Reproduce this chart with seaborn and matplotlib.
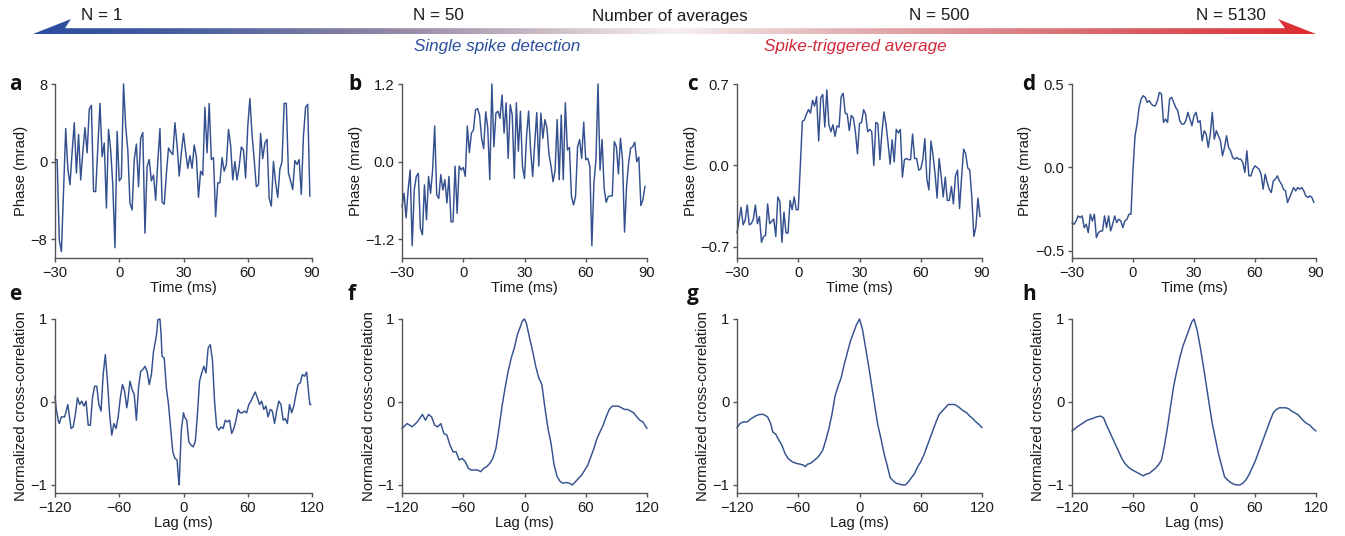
import numpy as np
import pandas as pd
import matplotlib
matplotlib.use("Agg")
import matplotlib.pyplot as plt
import seaborn as sns
from matplotlib.colors import LinearSegmentedColormap
from matplotlib.patches import Polygon

# ---------------- data ----------------
time_ms = list(range(-30, 90))

phase_a = [0.2, 0.2, -8.1, -9.3, -3.0, 3.4, -0.8, -2.4, 1.0, 4.0,
           -1.2, 2.8, -1.9, 1.0, 3.5, 0.9, 5.4, 5.8, -3.1, -3.1,
           1.5, 6.0, 0.5, 1.9, -4.8, 3.3, 1.2, -2.5, -8.9, 3.1,
           -2.0, -1.7, 8.0, 3.6, 1.2, -4.3, -5.0, 0.2, 1.8, -2.6,
           2.4, 3.0, -7.4, -0.5, 0.2, -2.0, -1.4, -4.0, 0.0, 3.4,
           -4.2, -4.4, -1.3, 1.4, 1.0, 0.7, 4.0, 1.7, -1.5, 0.9,
           2.9, 1.0, -0.7, 0.6, -0.7, 1.7, 0.5, -3.7, -1.0, -1.4,
           5.6, 0.9, 6.0, 0.2, 0.4, -5.7, -2.2, -2.2, 0.4, -1.0,
           -0.3, 3.3, 1.7, -1.9, 0.0, -1.9, -0.5, 1.5, 1.2, -1.7,
           3.6, 6.5, 2.8, 0.2, -2.6, -2.4, 2.9, 0.3, 1.9, 2.3,
           -3.8, -4.6, 0.0, -2.2, -3.7, -0.8, 0.0, 6.0, 6.0, -1.2,
           -2.0, -2.9, 0.1, -0.3, 0.2, -3.4, 2.6, 5.6, 5.9, -3.6]

phase_b = [-0.70, -0.49, -0.87, -0.44, -0.13, -1.30, -0.44, -0.23, -0.18, -1.03,
           -1.13, -0.36, -0.90, -0.23, -0.49, -0.13, 0.55, -0.51, -0.57, -0.20,
           -0.44, -0.28, -0.64, -0.23, -0.93, -0.93, -0.07, -0.80, -0.07, -0.13,
           -0.09, -0.23, 0.55, 0.14, 0.44, 0.49, 0.80, 0.82, 0.72, 0.36,
           0.20, 0.77, 0.52, -0.28, 1.20, 0.23, 0.75, 0.78, 0.67, 1.03,
           0.44, 0.91, 0.05, 0.88, 0.72, -0.26, 0.91, 0.16, 0.78, -0.07,
           -0.26, 0.39, 0.78, 0.18, -0.23, 0.28, 0.76, -0.07, 0.75, 0.36,
           0.65, 0.52, 0.11, -0.07, -0.31, -0.13, 0.65, -0.28, 0.72, -0.28,
           0.91, 0.18, 0.22, -0.54, -0.67, -0.54, 0.23, 0.34, 0.05, 0.61,
           0.03, 0.05, -0.07, -1.30, -0.33, 0.03, 1.20, -0.13, 0.34, -0.41,
           -0.63, -0.54, -0.53, -0.53, 0.31, 0.23, -0.19, 0.36, 0.03, -1.09,
           -0.38, -0.02, 0.21, 0.23, 0.30, 0.00, 0.07, -0.68, -0.59, -0.38]

phase_c = [-0.58, -0.47, -0.36, -0.51, -0.47, -0.34, -0.51, -0.50, -0.46, -0.34,
           -0.50, -0.44, -0.66, -0.61, -0.60, -0.33, -0.50, -0.48, -0.46, -0.61,
           -0.27, -0.31, -0.66, -0.40, -0.58, -0.58, -0.30, -0.38, -0.27, -0.38,
           -0.38, -0.01, 0.38, 0.39, 0.44, 0.48, 0.45, 0.56, 0.51, 0.59,
           0.21, 0.58, 0.61, 0.33, 0.65, 0.35, 0.29, 0.35, 0.25, 0.34,
           0.33, 0.59, 0.62, 0.45, 0.44, 0.30, 0.43, 0.41, 0.29, 0.10,
           0.36, 0.37, 0.48, 0.44, 0.29, 0.31, 0.29, 0.00, 0.37, 0.36,
           0.05, 0.29, 0.46, 0.35, 0.19, 0.01, 0.22, 0.03, 0.31, 0.28,
           0.31, -0.10, 0.05, 0.06, 0.05, 0.05, 0.27, 0.06, 0.06, -0.04,
           -0.03, 0.05, 0.23, -0.12, -0.21, 0.21, 0.09, -0.07, -0.28, 0.06,
           -0.09, -0.27, -0.10, -0.30, -0.30, -0.18, -0.33, -0.09, -0.04, -0.37,
           -0.10, 0.14, 0.10, -0.02, -0.04, -0.27, -0.61, -0.53, -0.28, -0.44]

phase_d = [-0.33, -0.34, -0.32, -0.29, -0.30, -0.29, -0.36, -0.34, -0.39, -0.28,
           -0.32, -0.28, -0.42, -0.39, -0.38, -0.38, -0.29, -0.36, -0.29, -0.38,
           -0.34, -0.29, -0.33, -0.31, -0.32, -0.36, -0.32, -0.31, -0.28, -0.28,
           -0.01, 0.19, 0.26, 0.36, 0.41, 0.43, 0.42, 0.39, 0.40, 0.38,
           0.37, 0.37, 0.40, 0.45, 0.44, 0.27, 0.29, 0.27, 0.41, 0.42,
           0.39, 0.36, 0.34, 0.28, 0.26, 0.26, 0.28, 0.33, 0.29, 0.25,
           0.31, 0.33, 0.27, 0.28, 0.16, 0.22, 0.20, 0.12, 0.20, 0.33,
           0.17, 0.22, 0.19, 0.16, 0.07, 0.12, 0.19, 0.12, 0.10, 0.06,
           0.05, 0.06, 0.05, 0.05, 0.03, -0.03, 0.10, -0.05, -0.05, -0.01,
           0.01, 0.00, -0.01, -0.04, -0.13, -0.04, -0.09, -0.13, -0.15, -0.08,
           -0.07, -0.05, -0.08, -0.10, -0.13, -0.14, -0.21, -0.18, -0.15, -0.12,
           -0.14, -0.12, -0.13, -0.12, -0.14, -0.17, -0.18, -0.17, -0.18, -0.21]

lag_e = [-120, -119, -117, -116, -114, -111, -108, -107, -105, -103, -101, -99, -97, -95,
         -93, -91, -89, -87, -85, -83, -81, -79, -77, -75, -73, -71, -69, -67, -65, -63,
         -61, -59, -57, -55, -53, -52, -50, -48, -46, -44, -42, -40, -38, -36, -34, -32,
         -30, -28, -26, -25, -24, -22, -21, -20, -18, -16, -14, -12, -10, -8, -6, -5, -4,
         -3, -2, 0, 1, 3, 5, 7, 9, 11, 13, 15, 17, 19, 21, 23, 25, 27, 29, 31, 33, 35, 37,
         39, 41, 43, 45, 47, 49, 51, 53, 55, 57, 59, 61, 63, 65, 67, 69, 71, 73, 75, 77, 79,
         81, 83, 85, 87, 89, 91, 93, 95, 97, 99, 101, 103, 105, 107, 109, 111, 113, 115,
         117, 118, 119]
xcorr_e = [0.07, -0.07, -0.22, -0.26, -0.18, -0.18, -0.03, -0.13, -0.32, -0.30, -0.15, 0.05,
           -0.03, 0.01, -0.05, 0.01, -0.28, -0.28, 0.05, 0.19, 0.19, -0.03, -0.11, 0.33, 0.57,
           0.25, -0.15, -0.40, -0.26, -0.32, -0.18, 0.05, 0.21, 0.13, -0.07, 0.01, 0.25, 0.15,
           0.09, -0.22, 0.17, 0.37, 0.39, 0.43, 0.37, 0.21, 0.33, 0.61, 0.75, 0.83, 0.99, 1.00,
           0.83, 0.55, 0.53, 0.17, -0.03, -0.32, -0.60, -0.68, -0.70, -0.88, -1.00, -0.64,
           -0.34, -0.13, -0.18, -0.22, -0.48, -0.52, -0.54, -0.48, -0.15, 0.25, 0.35, 0.43,
           0.35, 0.65, 0.69, 0.51, 0.01, -0.30, -0.34, -0.30, -0.32, -0.22, -0.24, -0.22,
           -0.38, -0.32, -0.22, -0.09, -0.13, -0.13, -0.11, -0.13, -0.03, 0.01, 0.07, 0.12,
           0.05, -0.03, 0.01, -0.09, -0.05, -0.18, -0.09, -0.11, -0.26, -0.11, 0.01, -0.03,
           -0.22, -0.20, -0.26, -0.03, -0.13, -0.05, 0.09, 0.21, 0.23, 0.33, 0.31, 0.36, 0.09,
           -0.03, -0.03]

lag_f = [-120, -115, -110, -105, -100, -97, -94, -91, -88, -85, -82, -79, -76, -73, -70, -67,
         -64, -61, -58, -55, -52, -49, -46, -43, -40, -37, -34, -31, -28, -25, -22, -19, -16,
         -13, -10, -7, -4, -2, 0, 2, 5, 8, 11, 14, 17, 20, 23, 26, 29, 32, 35, 38, 41, 44, 47,
         50, 53, 56, 59, 62, 65, 68, 71, 74, 77, 80, 83, 86, 89, 92, 95, 98, 101, 104, 107,
         110, 113, 116, 120]
xcorr_f = [-0.32, -0.26, -0.30, -0.24, -0.15, -0.22, -0.15, -0.18, -0.28, -0.30, -0.26, -0.38,
           -0.40, -0.52, -0.60, -0.60, -0.70, -0.68, -0.72, -0.80, -0.82, -0.82, -0.82, -0.84,
           -0.80, -0.78, -0.74, -0.68, -0.56, -0.32, -0.05, 0.17, 0.37, 0.53, 0.65, 0.81, 0.91,
           0.98, 1.00, 0.94, 0.77, 0.61, 0.43, 0.29, 0.21, -0.07, -0.32, -0.50, -0.76, -0.90,
           -0.96, -0.98, -0.97, -0.98, -1.00, -0.96, -0.92, -0.88, -0.82, -0.76, -0.66, -0.56,
           -0.44, -0.36, -0.28, -0.18, -0.09, -0.05, -0.05, -0.05, -0.07, -0.09, -0.09, -0.11,
           -0.13, -0.18, -0.22, -0.24, -0.32]

lag_g = [-120, -117, -114, -110, -106, -102, -98, -94, -90, -87, -85, -82, -79, -76, -73, -70,
         -66, -62, -58, -55, -53, -51, -48, -45, -42, -39, -36, -33, -30, -27, -24, -21, -18,
         -15, -12, -9, -6, -3, 0, 3, 6, 9, 12, 15, 18, 21, 24, 27, 30, 33, 36, 39, 42, 45, 48,
         51, 54, 57, 60, 63, 66, 69, 72, 75, 78, 81, 84, 87, 90, 93, 96, 99, 102, 105, 108,
         111, 114, 117, 120]
xcorr_g = [-0.31, -0.26, -0.24, -0.24, -0.20, -0.17, -0.15, -0.15, -0.18, -0.26, -0.36, -0.39,
           -0.46, -0.52, -0.62, -0.68, -0.72, -0.74, -0.75, -0.76, -0.78, -0.75, -0.74, -0.71,
           -0.68, -0.64, -0.58, -0.46, -0.32, -0.15, 0.07, 0.19, 0.29, 0.45, 0.59, 0.73, 0.83,
           0.93, 1.00, 0.87, 0.65, 0.43, 0.19, -0.05, -0.28, -0.44, -0.62, -0.76, -0.91, -0.95,
           -0.98, -0.99, -1.00, -1.00, -0.96, -0.91, -0.86, -0.78, -0.72, -0.64, -0.54, -0.44,
           -0.34, -0.24, -0.15, -0.11, -0.07, -0.03, -0.03, -0.03, -0.05, -0.08, -0.11, -0.13,
           -0.17, -0.20, -0.24, -0.27, -0.31]

lag_h = [-120, -115, -110, -105, -100, -96, -92, -89, -86, -83, -80, -77, -74, -71, -68, -65,
         -62, -59, -56, -53, -50, -47, -44, -41, -38, -35, -32, -29, -26, -23, -20, -17, -14,
         -11, -8, -5, -2, 0, 3, 6, 9, 12, 15, 18, 21, 24, 27, 30, 33, 36, 39, 42, 45, 48, 51,
         54, 57, 60, 63, 66, 69, 72, 75, 78, 81, 84, 87, 90, 93, 96, 99, 102, 105, 108, 111,
         114, 117, 120]
xcorr_h = [-0.35, -0.30, -0.26, -0.22, -0.20, -0.18, -0.17, -0.19, -0.28, -0.36, -0.44, -0.52,
           -0.60, -0.68, -0.74, -0.78, -0.81, -0.83, -0.85, -0.87, -0.89, -0.87, -0.86, -0.83,
           -0.80, -0.76, -0.70, -0.52, -0.30, -0.05, 0.19, 0.37, 0.53, 0.67, 0.77, 0.87, 0.97,
           1.00, 0.87, 0.67, 0.45, 0.21, -0.03, -0.26, -0.44, -0.62, -0.76, -0.90, -0.94, -0.97,
           -0.99, -1.00, -1.00, -0.98, -0.94, -0.88, -0.80, -0.72, -0.62, -0.52, -0.42, -0.32,
           -0.22, -0.13, -0.09, -0.07, -0.07, -0.07, -0.08, -0.11, -0.13, -0.15, -0.19, -0.23,
           -0.26, -0.28, -0.32, -0.35]

panel_letters = ["a", "b", "c", "d", "e", "f", "g", "h"]
phase_ticks = [[-8, 0, 8], [-1.2, 0.0, 1.2], [-0.7, 0.0, 0.7], [-0.5, 0.0, 0.5]]
phase_ticklabels = [["\u22128", "0", "8"], ["\u22121.2", "0.0", "1.2"],
                    ["\u22120.7", "0.0", "0.7"], ["\u22120.5", "0.0", "0.5"]]
phase_ylims = [(-9.96, 8), (-1.49, 1.2), (-0.795, 0.7), (-0.542, 0.5)]
time_ticks = [-30, 0, 30, 60, 90]
lag_ticks = [-120, -60, 0, 60, 120]
xc_ticks = [-1, 0, 1]
top_labels = ["N = 1", "N = 50", "Number of averages", "N = 500", "N = 5130"]
mode_labels = ["Single spike detection", "Spike-triggered average"]

# ---------------- style ----------------
sns.set_theme(style="ticks")
plt.rcParams["font.family"] = ["Liberation Sans", "DejaVu Sans"]
plt.rcParams["axes.unicode_minus"] = True

W, H = 1345, 536
fig = plt.figure(figsize=(W / 100, H / 100), dpi=100)
fig.patch.set_facecolor("white")

LINE = "#34508f"
SPINE = "#555555"
TXT = "#1a1a1a"

col_px = [(55, 312), (402, 647), (737, 982), (1072, 1316)]
row_px = [(84, 258), (319, 493)]
ylab_top = [-0.107, -0.161, -0.161, -0.162]
ylab_bot = [-0.107, -0.108, -0.110, -0.111]
letter_x = [9, 348, 687, 1022]
letter_base = [90, 300]


def make_ax(c, r):
    l, rr = col_px[c]
    t, b = row_px[r]
    return fig.add_axes([l / W, 1 - b / H, (rr - l) / W, (b - t) / H])


def style(ax):
    sns.despine(ax=ax)
    for s in ["left", "bottom"]:
        ax.spines[s].set_color(SPINE)
        ax.spines[s].set_linewidth(1.0)
    ax.tick_params(axis="both", length=3, width=1.0, color=SPINE, pad=2.5,
                   labelsize=10.6, labelcolor=TXT)
    ax.set_facecolor("white")


phase_series = [phase_a, phase_b, phase_c, phase_d]
for i in range(4):
    ax = make_ax(i, 0)
    df = pd.DataFrame({"t": time_ms, "v": phase_series[i]})
    sns.lineplot(data=df, x="t", y="v", ax=ax, color=LINE, linewidth=1.05,
                 estimator=None, sort=False)
    ax.set_xlim(-30, 90)
    ax.set_ylim(*phase_ylims[i])
    ax.set_xticks(time_ticks)
    ax.set_xticklabels(["\u221230", "0", "30", "60", "90"])
    ax.set_yticks(phase_ticks[i])
    ax.set_yticklabels(phase_ticklabels[i])
    ax.set_xlabel("Time (ms)", fontsize=10.7, color=TXT, labelpad=1)
    ax.set_ylabel("Phase (mrad)", fontsize=10.7, color=TXT)
    ax.yaxis.set_label_coords(ylab_top[i], 0.5)
    style(ax)
    for ln in ax.get_lines():
        ln.set_clip_on(False)

lag_series = [(lag_e, xcorr_e), (lag_f, xcorr_f), (lag_g, xcorr_g), (lag_h, xcorr_h)]
for i in range(4):
    ax = make_ax(i, 1)
    lg, xc = lag_series[i]
    df = pd.DataFrame({"lag": lg, "v": xc})
    sns.lineplot(data=df, x="lag", y="v", ax=ax, color=LINE, linewidth=1.05,
                 estimator=None, sort=False)
    ax.set_xlim(-120, 120)
    ax.set_ylim(-1.097, 1)
    ax.set_xticks(lag_ticks)
    ax.set_xticklabels(["\u2212120", "\u221260", "0", "60", "120"])
    ax.set_yticks(xc_ticks)
    ax.set_yticklabels(["\u22121", "0", "1"])
    ax.set_xlabel("Lag (ms)", fontsize=10.7, color=TXT, labelpad=1)
    ax.set_ylabel("Normalized cross-correlation", fontsize=10.7, color=TXT)
    ax.yaxis.set_label_coords(ylab_bot[i], 0.5)
    style(ax)
    for ln in ax.get_lines():
        ln.set_clip_on(False)

# ---------------- overlay: arrow, texts, letters ----------------
ov = fig.add_axes([0, 0, 1, 1], zorder=5)
ov.set_xlim(0, W)
ov.set_ylim(H, 0)
ov.axis("off")
ov.patch.set_alpha(0)

cmap = LinearSegmentedColormap.from_list(
    "arrow",
    [(0.0, "#2a4c9f"), (0.12, "#48609f"), (0.28, "#9387a6"), (0.4, "#cdbcc6"),
     (0.5, "#f6f0f0"), (0.62, "#e3b7ba"), (0.8, "#d97479"), (1.0, "#dc2a2e")])
grad = np.linspace(0, 1, 512).reshape(1, -1)
im = ov.imshow(grad, extent=(33, 1316, 35, 18), aspect="auto", cmap=cmap,
               interpolation="bilinear")
arrow_pts = [(33, 34), (71, 19), (65, 28.2), (1285, 28.2), (1278, 19), (1316, 34)]
poly = Polygon(arrow_pts, closed=True, facecolor="none", edgecolor="none")
ov.add_patch(poly)
im.set_clip_path(poly)
ov.set_xlim(0, W)
ov.set_ylim(H, 0)

top_x = [102, 438, 670, 939, 1231]
for x, s in zip(top_x, top_labels):
    ov.text(x, 16, s, ha="center", va="center", fontsize=12.3, color=TXT)
ov.text(497, 46, mode_labels[0], ha="center", va="center", fontsize=12.3,
        style="italic", color="#2a4f9d")
ov.text(855, 46, mode_labels[1], ha="center", va="center", fontsize=12.3,
        style="italic", color="#d0283a")

for r in range(2):
    for c in range(4):
        ov.text(letter_x[c], letter_base[r], panel_letters[r * 4 + c], ha="left",
                va="baseline", fontsize=15, fontweight="bold",
                family=["Open Sans", "DejaVu Sans"], color="#111111")

fig.savefig("out.png", dpi=100, facecolor="white")
